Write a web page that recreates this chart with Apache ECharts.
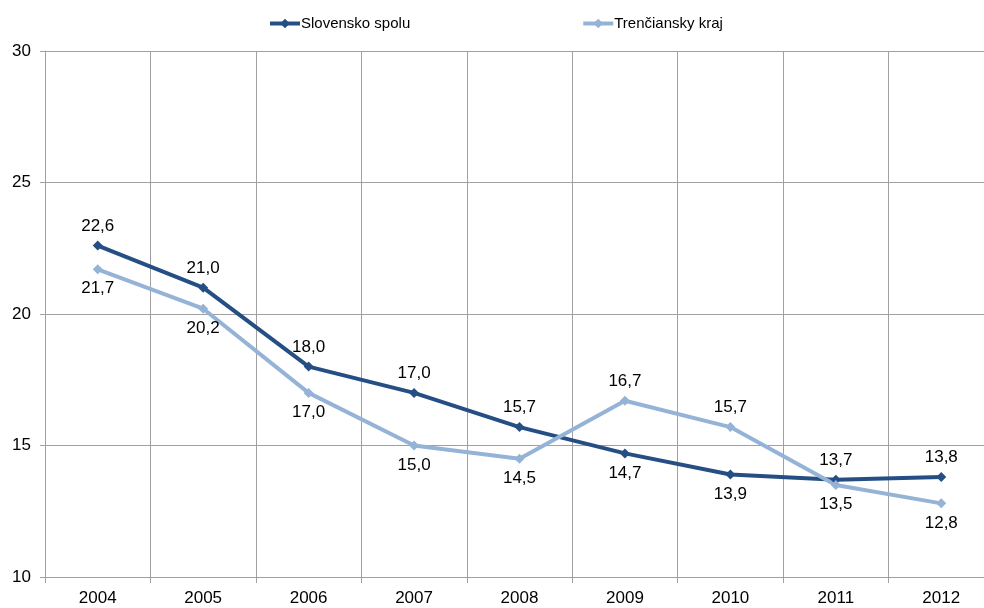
<!DOCTYPE html>
<html>
<head>
<meta charset="utf-8">
<script src="https://cdn.jsdelivr.net/npm/echarts@6/dist/echarts.min.js"></script>
<style>
  html, body { margin: 0; padding: 0; background: #fff; }
  #chart { width: 984px; height: 608px; }
</style>
</head>
<body>
<div id="chart"></div>
<script>
// Years on the category axis
const years = ['2004', '2005', '2006', '2007', '2008', '2009', '2010', '2011', '2012'];
// Series values
const slovensko = [22.6, 21.0, 18.0, 17.0, 15.7, 14.7, 13.9, 13.7, 13.8];
const trenciansky = [21.7, 20.2, 17.0, 15.0, 14.5, 16.7, 15.7, 13.5, 12.8];
// Label placement per point
const slovenskoPos = ['top', 'top', 'top', 'top', 'top', 'bottom', 'bottom', 'top', 'top'];
const trencianskyPos = ['bottom', 'bottom', 'bottom', 'bottom', 'bottom', 'top', 'top', 'bottom', 'bottom'];

const fmt = v => v.toFixed(1).replace('.', ',');
const fontFamily = 'Liberation Sans, Arial, sans-serif';

function points(values, positions) {
  return values.map((v, i) => ({
    value: v,
    label: { position: positions[i] }
  }));
}

function series(name, color, values, positions) {
  return {
    name: name,
    type: 'line',
    data: points(values, positions),
    symbol: 'diamond',
    symbolSize: 10,
    lineStyle: { color: color, width: 4 },
    itemStyle: { color: color },
    label: {
      show: true,
      color: '#000',
      fontSize: 17,
      fontFamily: fontFamily,
      distance: 6,
      formatter: p => fmt(p.value)
    },
    emphasis: { disabled: true },
    animation: false
  };
}

const chart = echarts.init(document.getElementById('chart'));
chart.setOption({
  backgroundColor: '#fff',
  animation: false,
  legend: {
    top: 11,
    left: 263,
    itemGap: 171,
    itemWidth: 30,
    itemHeight: 12,
    lineStyle: { width: 4 },
    textStyle: { fontSize: 15, color: '#000', fontFamily: fontFamily, padding: [0, 0, 0, -4] },
    data: ['Slovensko spolu', 'Trenčiansky kraj']
  },
  // the plot runs a little past the right edge of the canvas
  grid: { left: 45, top: 51, width: 949, height: 526, outerBoundsMode: 'none', containLabel: false },
  xAxis: {
    type: 'category',
    data: years,
    boundaryGap: true,
    axisLine: { lineStyle: { color: '#a0a0a0', width: 1 } },
    axisTick: { show: true, length: 6, lineStyle: { color: '#a0a0a0' } },
    splitLine: { show: true, lineStyle: { color: '#a0a0a0', width: 1 } },
    axisLabel: { color: '#000', fontSize: 17, fontFamily: fontFamily, margin: 13 }
  },
  yAxis: {
    type: 'value',
    min: 10,
    max: 30,
    interval: 5,
    axisLine: { show: true, lineStyle: { color: '#a0a0a0', width: 1 } },
    axisTick: { show: true, length: 5, lineStyle: { color: '#a0a0a0' } },
    splitLine: { show: true, lineStyle: { color: '#a0a0a0', width: 1 } },
    axisLabel: { color: '#000', fontSize: 17, fontFamily: fontFamily, margin: 14 }
  },
  series: [
    series('Slovensko spolu', '#254f84', slovensko, slovenskoPos),
    series('Trenčiansky kraj', '#95b3d7', trenciansky, trencianskyPos)
  ]
});
</script>
</body>
</html>
